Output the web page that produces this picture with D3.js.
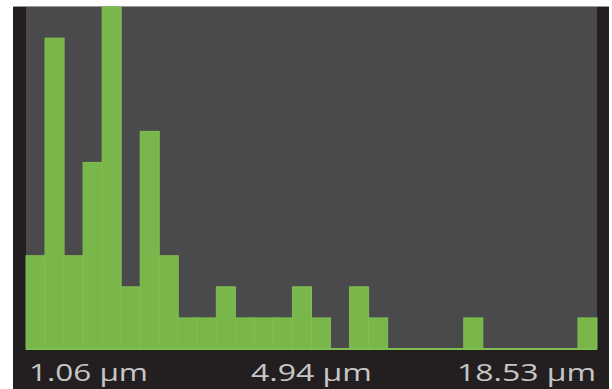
<!DOCTYPE html>
<html>
<head>
<meta charset="utf-8">
<script src="https://cdn.jsdelivr.net/npm/d3@7/dist/d3.min.js"></script>
<style>
  html, body { margin: 0; padding: 0; background: #ffffff; }
  svg { display: block; }
</style>
</head>
<body>
<svg id="chart" width="612" height="389"></svg>
<script>
// Particle size histogram: 30 bins, counts per bin
const binIndex = d3.range(30);
const binCounts = [3, 10, 3, 6, 11, 2, 7, 3, 1, 1, 2, 1, 1, 1, 2, 1, 0, 2, 1, 0, 0, 0, 0, 1, 0, 0, 0, 0, 0, 1];
const sizeLabels = ["1.06 µm", "4.94 µm", "18.53 µm"];
const labelAnchor = ["start", "middle", "end"];

const svg = d3.select("#chart");
const frame = { left: 13, right: 609, top: 6, bottom: 389 };
const plot = { left: 26, right: 597, top: 7, bottom: 349 };

// outer dark panel
svg.append("rect")
  .attr("x", frame.left).attr("y", frame.top)
  .attr("width", frame.right - frame.left).attr("height", frame.bottom - frame.top)
  .attr("fill", "#231f20");
svg.append("line")
  .attr("x1", frame.left).attr("x2", frame.right)
  .attr("y1", frame.top + 0.5).attr("y2", frame.top + 0.5)
  .attr("stroke", "#9a9a9a").attr("stroke-width", 1);

// plot background
svg.append("rect")
  .attr("x", plot.left).attr("y", plot.top)
  .attr("width", plot.right - plot.left).attr("height", plot.bottom - plot.top)
  .attr("fill", "#4a4a4c");

const x = d3.scaleBand().domain(binIndex).range([plot.left, plot.right]).padding(0);
const y = d3.scaleLinear().domain([0, d3.max(binCounts)]).range([plot.bottom, plot.top]);

svg.append("g").selectAll("rect")
  .data(binIndex.filter(i => binCounts[i] > 0))
  .join("rect")
  .attr("x", i => x(i))
  .attr("y", i => y(binCounts[i]))
  .attr("width", x.bandwidth())
  .attr("height", i => y(0) - y(binCounts[i]))
  .attr("fill", "#79b74b")
  .attr("stroke", "#80bf51")
  .attr("stroke-width", 1);

// baseline
svg.append("line")
  .attr("x1", plot.left).attr("x2", plot.right)
  .attr("y1", plot.bottom).attr("y2", plot.bottom)
  .attr("stroke", "#7fbd4f").attr("stroke-width", 2);

// size labels under the plot
const labelX = [29, (plot.left + plot.right) / 2, 596];
const labelW = [119, 121, 139];
svg.append("g").selectAll("text")
  .data(sizeLabels)
  .join("text")
  .attr("x", (d, i) => labelX[i])
  .attr("y", 381)
  .attr("text-anchor", (d, i) => labelAnchor[i])
  .attr("textLength", (d, i) => labelW[i])
  .attr("lengthAdjust", "spacingAndGlyphs")
  .attr("font-family", "'Open Sans', 'Noto Sans', sans-serif")
  .attr("font-size", 24)
  .attr("fill", "#c6c6c6")
  .text(d => d);
</script>
</body>
</html>
